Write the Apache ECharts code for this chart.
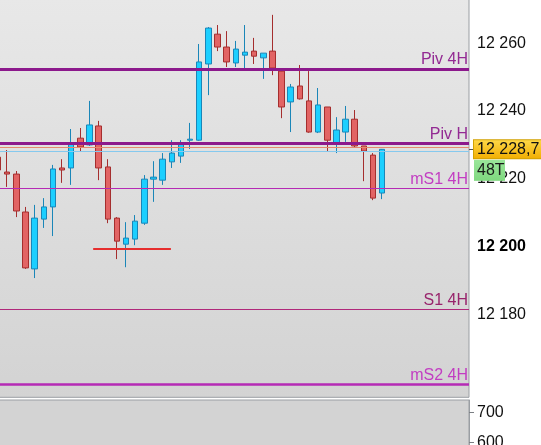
<!DOCTYPE html>
<html><head><meta charset="utf-8">
<script src="https://cdn.jsdelivr.net/npm/echarts@6/dist/echarts.min.js"></script>
<style>html,body{margin:0;padding:0;background:#fff;overflow:hidden}#c{width:541px;height:445px}</style>
</head><body><div id="c"></div>
<script>
// ---- data ----
const openValues  = [12226.4,12222.0,12221.4,12210.2,12193.4,12208.1,12211.7,12223.2,12223.2,12232.0,12230.0,12235.6,12223.5,12208.4,12200.7,12202.2,12206.9,12219.9,12219.6,12225.0,12226.7,12231.4,12231.4,12253.9,12262.7,12258.9,12254.2,12256.5,12257.7,12255.7,12257.7,12251.8,12242.7,12247.4,12243.0,12233.8,12241.2,12230.3,12233.8,12237.6,12229.7,12227.0,12215.8];
const closeValues = [12222.6,12221.4,12210.5,12193.7,12208.4,12211.7,12222.9,12222.6,12230.3,12229.4,12235.9,12223.2,12208.1,12201.6,12202.5,12207.5,12219.9,12220.5,12225.8,12227.6,12230.6,12231.7,12254.5,12264.5,12258.9,12254.5,12258.3,12257.4,12256.2,12257.1,12252.7,12241.2,12247.1,12243.6,12233.8,12241.8,12231.4,12234.4,12237.6,12229.7,12228.2,12214.3,12228.7];
const lowValues   = [12221.1,12217.6,12208.7,12193.4,12190.7,12205.5,12203.1,12218.8,12218.2,12228.2,12229.7,12219.6,12206.9,12196.3,12193.9,12200.4,12206.4,12213.2,12218.2,12223.2,12224.7,12228.8,12231.2,12244.7,12257.7,12253.0,12253.0,12252.7,12253.9,12249.5,12250.6,12237.9,12233.8,12243.4,12233.6,12233.5,12228.2,12227.6,12230.9,12229.1,12219.3,12213.7,12214.0];
const highValues  = [12228.5,12228.5,12222.3,12211.7,12212.3,12214.3,12224.1,12225.8,12234.7,12235.0,12243.0,12237.1,12225.8,12208.7,12207.2,12209.3,12221.1,12225.2,12227.6,12231.4,12231.4,12236.5,12259.8,12264.8,12265.4,12263.6,12260.7,12265.4,12261.6,12257.1,12268.4,12252.7,12248.0,12253.6,12251.8,12246.8,12241.2,12238.2,12241.5,12240.3,12229.7,12227.6,12228.8];
const slotCount = 52;               // visible bar slots (incl. empty space on the right)
const levelNames  = ['Piv 4H','Piv H','mS1 4H','S1 4H','mS2 4H'];
const levelValues = [12252.4,12230.5,12217.2,12181.5,12159.3];
const quoteLineValues = [12229.3,12228.2];   // thin orange / light-blue lines
const supportLine = {from: 10.9, to: 19.4, price: 12199.3};
const priceTicks = [12180,12200,12220,12240,12260];
const boldTick = 12200;
const volumeTicks = [600,700];
const lastPrice = 12228.7;
const lastPriceText = '12 228,7';
const tagText = '48T';

// ---- styles ----
const FONT = 'Liberation Sans, Arial, sans-serif';
const levelStyles = [
  {line:'#8c198c', width:3,   text:'#932a93'},
  {line:'#8c198c', width:3,   text:'#932a93'},
  {line:'#b52ab5', width:1,   text:'#c23dc2'},
  {line:'#b0287a', width:1.2, text:'#98246c'},
  {line:'#b52ab5', width:2.5, text:'#c23dc2'}
];
const quoteStyles = ['#e58a6c','#86c9ee'];

const fmt = v => {
  const s = String(Math.round(v));
  return s.length > 3 ? s.slice(0, s.length-3) + ' ' + s.slice(s.length-3) : s;
};

const categories = Array.from({length: slotCount}, (_, i) => i);
const candleData = openValues.map((o, i) => [o, closeValues[i], lowValues[i], highValues[i]]);

const markData = [];
levelValues.forEach((v, i) => {
  const st = levelStyles[i];
  markData.push({
    yAxis: v, name: levelNames[i],
    lineStyle: {color: st.line, width: st.width, type: 'solid', opacity: 1},
    label: {show: true, position: 'insideEndTop', formatter: levelNames[i], color: st.text,
            fontSize: 16, fontFamily: FONT, distance: [1, 1]}
  });
});
quoteLineValues.forEach((v, i) => {
  markData.push({yAxis: v, lineStyle: {color: quoteStyles[i], width: 1, type: 'solid', opacity: 1}, label: {show: false}});
});

const chart = echarts.init(document.getElementById('c'), null, {renderer: 'canvas'});
const mainMin = 12155.5, mainMax = 12273.08;

chart.setOption({
  animation: false,
  backgroundColor: '#ffffff',
  grid: [
    {left: -6.5, top: -1, width: 475.5, height: 398.3, show: true, outerBoundsMode: 'none', containLabel: false,
     backgroundColor: new echarts.graphic.LinearGradient(0, 0, 0, 1, [
       {offset: 0, color: '#e8e8e8'}, {offset: 1, color: '#d3d3d3'}]),
     borderColor: '#9a9ea3', borderWidth: 1},
    {left: -6.5, top: 400, width: 475.5, height: 60, show: true, outerBoundsMode: 'none', containLabel: false,
     backgroundColor: '#d3d3d3', borderColor: '#9a9ea3', borderWidth: 1}
  ],
  xAxis: [
    {type: 'category', gridIndex: 0, data: categories, show: false, boundaryGap: true},
    {type: 'value', gridIndex: 0, min: 0, max: slotCount, show: false},
    {type: 'category', gridIndex: 1, data: categories, show: false}
  ],
  yAxis: [
    {type: 'value', gridIndex: 0, position: 'right', min: mainMin, max: mainMax, scale: true,
     splitLine: {show: false},
     axisLine: {show: true, lineStyle: {color: '#9a9ea3'}},
     axisTick: {show: true, length: 5, customValues: priceTicks, lineStyle: {color: '#7a7e83'}},
     axisLabel: {customValues: priceTicks, margin: 8, color: '#111', fontSize: 16, fontFamily: FONT,
       formatter: v => v === boldTick ? '{b|' + fmt(v) + '}' : fmt(v),
       rich: {b: {fontWeight: 'bold', fontSize: 16, fontFamily: FONT, color: '#000'}}}},
    {type: 'value', gridIndex: 0, position: 'right', min: mainMin, max: mainMax, scale: true,
     splitLine: {show: false}, axisLine: {show: false},
     axisTick: {show: true, length: 5, customValues: [lastPrice], lineStyle: {color: '#555'}},
     axisLabel: {customValues: [lastPrice], margin: 5, verticalAlign: 'middle',
       formatter: () => '{s| }\n{p|' + lastPriceText + '}\n{t|' + tagText + '}',
       rich: {
         s: {height: 18, lineHeight: 21, fontSize: 4},
         p: {fontSize: 16, fontFamily: FONT, color: '#111', height: 18, lineHeight: 21, width: 62,
             padding: [0, 2, 0, 3], borderColor: '#d2a100', borderWidth: 1,
             backgroundColor: new echarts.graphic.LinearGradient(0, 0, 0, 1, [
               {offset: 0, color: '#ffd94a'}, {offset: 1, color: '#f1ad00'}])},
         t: {fontSize: 16, fontFamily: FONT, color: '#1a1a1a', height: 21, lineHeight: 21, width: 28,
             padding: [0, 0, 0, 3], backgroundColor: new echarts.graphic.LinearGradient(0, 0, 0, 1, [
               {offset: 0, color: '#9ae69a'}, {offset: 1, color: '#7fd87f'}])}
       }}},
    {type: 'value', gridIndex: 1, position: 'right', min: 543, max: 740.5,
     splitLine: {show: false},
     axisLine: {show: true, lineStyle: {color: '#9a9ea3'}},
     axisTick: {show: true, length: 5, customValues: volumeTicks, lineStyle: {color: '#7a7e83'}},
     axisLabel: {customValues: volumeTicks, margin: 8, color: '#111', fontSize: 16, fontFamily: FONT}}
  ],
  series: [
    {type: 'candlestick', xAxisIndex: 0, yAxisIndex: 0, data: candleData, barWidth: 6,
     itemStyle: {color: '#1ccfff', color0: '#e26464', borderColor: '#1a86b8', borderColor0: '#a52e2e', borderWidth: 1},
     emphasis: {disabled: true},
     markLine: {silent: true, symbol: ['none', 'none'], animation: false, data: markData}},
    {type: 'line', xAxisIndex: 1, yAxisIndex: 0, symbol: 'none', silent: true,
     data: [[supportLine.from, supportLine.price], [supportLine.to, supportLine.price]],
     lineStyle: {color: '#e62e2e', width: 2}},
    {type: 'bar', xAxisIndex: 2, yAxisIndex: 2, data: []}
  ]
});
</script></body></html>
